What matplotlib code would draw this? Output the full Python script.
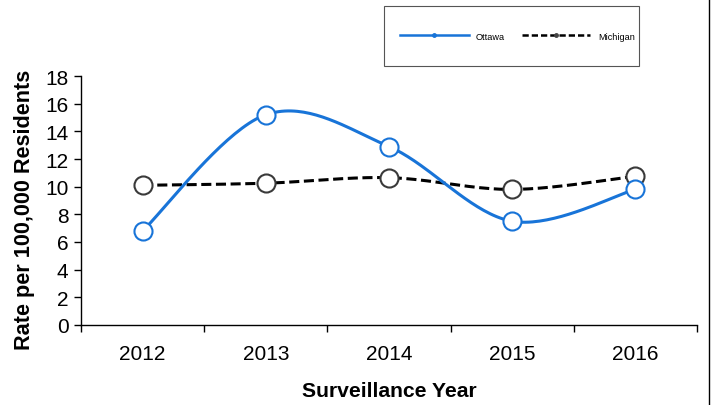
import numpy as np
import matplotlib.pyplot as plt
from matplotlib.lines import Line2D
from matplotlib.patches import Rectangle

plt.rcParams['font.family'] = ['Liberation Sans', 'DejaVu Sans']

years = ['2012', '2013', '2014', '2015', '2016']
ottawa = [6.8, 15.2, 12.9, 7.5, 9.8]
michigan = [10.1, 10.25, 10.65, 9.8, 10.75]


def smooth(xs, ys, n=40):
    # excel style smoothed line: cubic bezier, control points from neighbours
    xs = np.asarray(xs, float)
    ys = np.asarray(ys, float)
    px = np.concatenate([[xs[0]], xs, [xs[-1]]])
    py = np.concatenate([[ys[0]], ys, [ys[-1]]])
    t = np.linspace(0, 1, n)
    outx, outy = [], []
    for i in range(len(xs) - 1):
        p0 = np.array([xs[i], ys[i]])
        p3 = np.array([xs[i + 1], ys[i + 1]])
        p1 = p0 + (np.array([px[i + 2], py[i + 2]]) - np.array([px[i], py[i]])) / 6
        p2 = p3 - (np.array([px[i + 3], py[i + 3]]) - np.array([px[i + 1], py[i + 1]])) / 6
        b = ((1 - t) ** 3)[:, None] * p0 + (3 * (1 - t) ** 2 * t)[:, None] * p1 \
            + (3 * (1 - t) * t ** 2)[:, None] * p2 + (t ** 3)[:, None] * p3
        outx.extend(b[:, 0])
        outy.extend(b[:, 1])
    return outx, outy


fig = plt.figure(figsize=(7.12, 4.06), dpi=100)
ax = fig.add_axes([81 / 712, 80 / 406, 616 / 712, 249 / 406])

x = np.arange(len(years))
blue = '#1874d8'

sx, sy = smooth(x, michigan)
ax.plot(sx, sy, color='black', lw=2.2, ls=(0, (3.3, 1.5)), zorder=2)
sx, sy = smooth(x, ottawa)
ax.plot(sx, sy, color=blue, lw=2.2, zorder=3)

ax.plot(x, michigan, ls='none', marker='o', ms=13, mfc='white', mec='#3a3a3a', mew=1.5, zorder=4)
ax.plot(x, ottawa, ls='none', marker='o', ms=13, mfc='white', mec=blue, mew=1.5, zorder=5)

ax.set_xlim(-0.5, 4.5)
ax.set_ylim(0, 18)
ax.set_yticks(range(0, 19, 2))
ax.set_xticks(x)
ax.set_xticklabels(years)
ax.set_xticks(np.arange(-0.5, 5, 1), minor=True)
ax.tick_params(axis='x', which='major', length=0, labelsize=15, pad=14)
ax.tick_params(axis='x', which='minor', length=5, direction='out', width=1)
ax.tick_params(axis='y', length=5, direction='out', width=1, labelsize=15, pad=4)

for s in ['top', 'right']:
    ax.spines[s].set_visible(False)
for s in ['left', 'bottom']:
    ax.spines[s].set_linewidth(1)

ax.set_ylabel('Rate per 100,000 Residents', fontsize=15.6, fontweight='bold')
ax.yaxis.set_label_coords(-0.074, 0.465)
ax.set_xlabel('Surveillance Year', fontsize=15.2, fontweight='bold', labelpad=13)

# legend box drawn separately so its size matches
fig.add_artist(Rectangle((384 / 712, 1 - 67 / 406), 255 / 712, 60 / 406,
                         transform=fig.transFigure, fill=False,
                         edgecolor='#555555', lw=0.8))
handles = [
    Line2D([], [], color=blue, lw=1.8, marker='o', ms=2.5, mfc=blue, mec=blue),
    Line2D([], [], color='black', lw=1.8, ls=(0, (2.5, 1.2)), marker='o', ms=2.5, mfc='#444444', mec='#444444'),
]
leg = fig.legend(handles, ['Ottawa', 'Michigan'], ncol=2, loc='center left',
                 bbox_to_anchor=(400 / 712, 1 - 37 / 406), fontsize=6.6,
                 handlelength=7.5, handletextpad=0.8, columnspacing=1.8,
                 borderpad=0, borderaxespad=0, frameon=False)

fig.add_artist(Line2D([709 / 712, 709 / 712], [0, 1], transform=fig.transFigure,
                      color='black', lw=1))

fig.savefig('out.png', dpi=100)
